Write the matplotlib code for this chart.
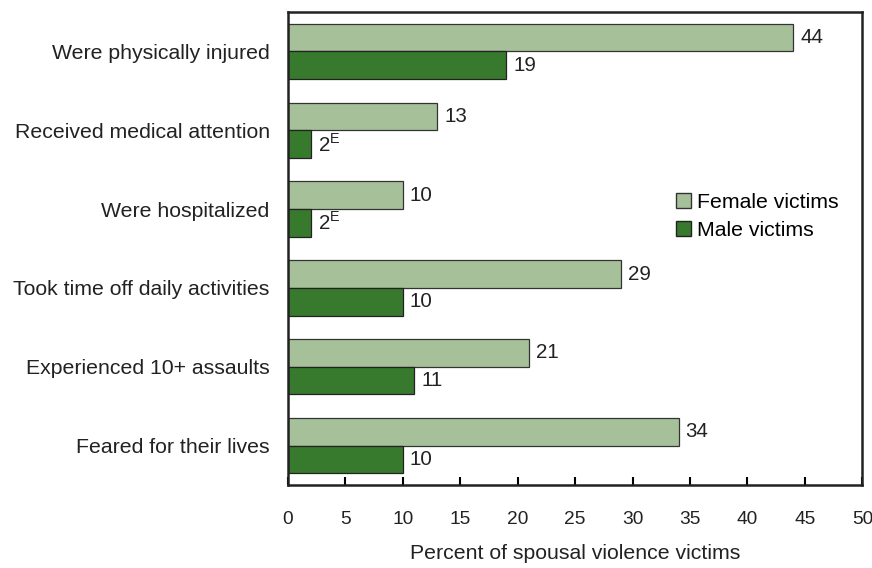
import numpy as np
import matplotlib.pyplot as plt
from matplotlib.patches import Patch

plt.rcParams['font.family'] = ['Liberation Sans', 'DejaVu Sans']
plt.rcParams['mathtext.fontset'] = 'custom'
plt.rcParams['mathtext.rm'] = 'Liberation Sans'

# data
categories = ['Were physically injured', 'Received medical attention', 'Were hospitalized',
              'Took time off daily activities', 'Experienced 10+ assaults', 'Feared for their lives']
female = [44, 13, 10, 29, 21, 34]
male = [19, 2, 2, 10, 11, 10]
male_labels = ['19', '2$^{\\mathrm{E}}$', '2$^{\\mathrm{E}}$', '10', '11', '10']

light = '#a6c199'
dark = '#387a2d'
fs = 14.8   # numbers
fw = 15.3   # words

fig = plt.figure(figsize=(8.72, 5.68), dpi=100)
ax = fig.add_axes([0.330, 0.146, 0.659, 0.833])

y = np.arange(len(categories))
h = 0.35
ax.barh(y - h / 2, female, height=h, color=light, edgecolor='#333333', linewidth=0.9)
ax.barh(y + h / 2, male, height=h, color=dark, edgecolor='#222222', linewidth=0.9)

for i in range(len(categories)):
    ax.text(female[i] + 0.6, y[i] - h / 2, str(female[i]), va='center', ha='left', fontsize=fs, color='#222222')
    ax.text(male[i] + 0.6, y[i] + h / 2, male_labels[i], va='center', ha='left', fontsize=fs, color='#222222')

ax.set_xlim(0, 50)
ax.set_ylim(len(categories) - 0.5, -0.5)
ax.set_xticks(np.arange(0, 51, 5))
ax.set_yticks(y)
ax.set_yticklabels(categories, fontsize=fw, color='#222222')
ax.tick_params(axis='y', length=0, pad=13)
ax.tick_params(axis='x', direction='in', length=6, width=1.5, pad=19, labelsize=13.8, labelcolor='#222222')
for s in ax.spines.values():
    s.set_linewidth(1.8)
    s.set_color('#222222')
ax.set_xlabel('Percent of spousal violence victims', fontsize=fw, color='#222222', labelpad=11)

handles = [Patch(facecolor=light, edgecolor='#333333', label='Female victims'),
           Patch(facecolor=dark, edgecolor='#222222', label='Male victims')]
ax.legend(handles=handles, loc='center left', bbox_to_anchor=(0.675, 0.568), frameon=False,
          fontsize=fw, handlelength=0.7, handleheight=0.7, handletextpad=0.3, labelspacing=0.45,
          borderpad=0, borderaxespad=0)

fig.savefig('out.png', dpi=100)
